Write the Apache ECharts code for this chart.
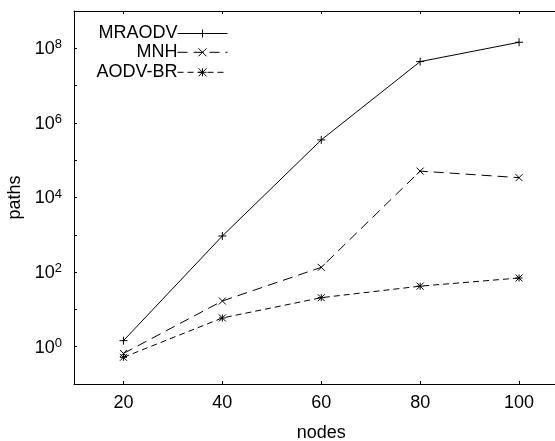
<!DOCTYPE html>
<html>
<head>
<meta charset="utf-8">
<script src="https://cdn.jsdelivr.net/npm/echarts@6/dist/echarts.min.js"></script>
<style>
html,body{margin:0;padding:0;background:#fff;overflow:hidden;}
#c{width:555px;height:441px;}
</style>
</head>
<body>
<div id="c"></div>
<script>
var nodes = [20, 40, 60, 80, 100];
var mraodv = [1.45, 930, 350000, 44000000, 145000000];
var mnh = [0.66, 16.8, 134, 51000, 34000];
var aodvbr = [0.52, 5.9, 20.6, 42, 69.5];
var xTicks = [20, 40, 60, 80, 100];
var yTickExponents = [0, 2, 4, 6, 8];
var yMinorExponents = [-1, 0, 1, 2, 3, 4, 5, 6, 7, 8, 9];

var FONT = '"Liberation Sans", Arial, Helvetica, sans-serif';
var FS = 18;

function pts(ys){ return nodes.map(function(x,i){ return [x, ys[i]]; }); }

var plusSym = 'path://M0,5L10,5M5,0L5,10';
var crossSym = 'path://M0,0L10,10M10,0L0,10';
var starSym = 'path://M0,0L10,10M10,0L0,10M0,5L10,5M5,0L5,10';

var chart = echarts.init(document.getElementById('c'), null, {renderer:'canvas', width:555, height:441});

function legendFor(name, top){
  return {
    data:[name], orient:'vertical', align:'right', right:327, top:top,
    padding:0, itemWidth:50, itemHeight:10, itemGap:0,
    lineStyle:{width:1},
    itemStyle:{borderWidth:1},
    textStyle:{fontFamily:FONT, fontSize:FS, color:'#000', lineHeight:18, padding:[0,-5,0,0]},
    selectedMode:false
  };
}

var option = {
  animation:false,
  backgroundColor:'#fff',
  textStyle:{fontFamily:FONT},
  legend:[legendFor('MRAODV', 24.5), legendFor('MNH', 43.3), legendFor('AODV-BR', 63.3)],
  grid:{left:74, top:11, width:494.5, bottom:57, show:false,
    containLabel:false, outerBoundsMode:'none'},
  graphic:[{type:'rect', left:551, top:13, z:100,
    shape:{width:4, height:369}, style:{fill:'#fff'}, silent:true}],
  xAxis:[{
    type:'value', min:10, max:110, position:'bottom',
    name:'nodes', nameLocation:'middle', nameGap:40,
    nameTextStyle:{fontFamily:FONT, fontSize:FS, color:'#000'},
    axisLine:{show:true, onZero:false, lineStyle:{color:'#000', width:1}},
    axisTick:{show:true, inside:true, length:3, lineStyle:{color:'#000'}, customValues:xTicks},
    axisLabel:{show:true, margin:10, fontFamily:FONT, fontSize:FS, color:'#000', customValues:xTicks},
    splitLine:{show:false}
  },{
    type:'value', min:10, max:110, position:'top',
    axisLine:{show:true, onZero:false, lineStyle:{color:'#000', width:1}},
    axisTick:{show:true, inside:true, length:3, lineStyle:{color:'#000'}, customValues:xTicks},
    axisLabel:{show:false},
    splitLine:{show:false}
  }],
  yAxis:[{
    type:'log', logBase:10, min:0.1, max:1e9, position:'left',
    name:'paths', nameLocation:'middle', nameGap:47, nameRotate:90,
    nameTextStyle:{fontFamily:FONT, fontSize:FS, color:'#000'},
    axisLine:{show:true, onZero:false, lineStyle:{color:'#000', width:1}},
    axisTick:{show:true, inside:true, length:3, lineStyle:{color:'#000'},
      customValues:yMinorExponents.map(function(e){return Math.pow(10,e);})},
    axisLabel:{show:true, margin:12, color:'#000',
      customValues:yTickExponents.map(function(e){return Math.pow(10,e);}),
      formatter:function(v){ return '{b|10}{s|' + Math.round(Math.log10(v)) + '}'; },
      rich:{
        b:{fontFamily:FONT, fontSize:FS, color:'#000', verticalAlign:'bottom', lineHeight:20},
        s:{fontFamily:FONT, fontSize:13, color:'#000', verticalAlign:'top', lineHeight:20, padding:[0,0,8,0]}
      }
    },
    splitLine:{show:false}
  }],
  series:[{
    name:'MRAODV', type:'line', data:pts(mraodv),
    symbol:plusSym, symbolSize:8, showAllSymbol:true,
    lineStyle:{color:'#000', width:1, type:'solid'},
    itemStyle:{color:'#000', borderColor:'#000', borderWidth:1}
  },{
    name:'MNH', type:'line', data:pts(mnh),
    symbol:crossSym, symbolSize:7,
    lineStyle:{color:'#000', width:1, type:[10,6]},
    itemStyle:{color:'#000', borderColor:'#000', borderWidth:1}
  },{
    name:'AODV-BR', type:'line', data:pts(aodvbr),
    symbol:starSym, symbolSize:7,
    lineStyle:{color:'#000', width:1, type:[6,4]},
    itemStyle:{color:'#000', borderColor:'#000', borderWidth:1}
  }]
};
chart.setOption(option);
</script>
</body>
</html>
